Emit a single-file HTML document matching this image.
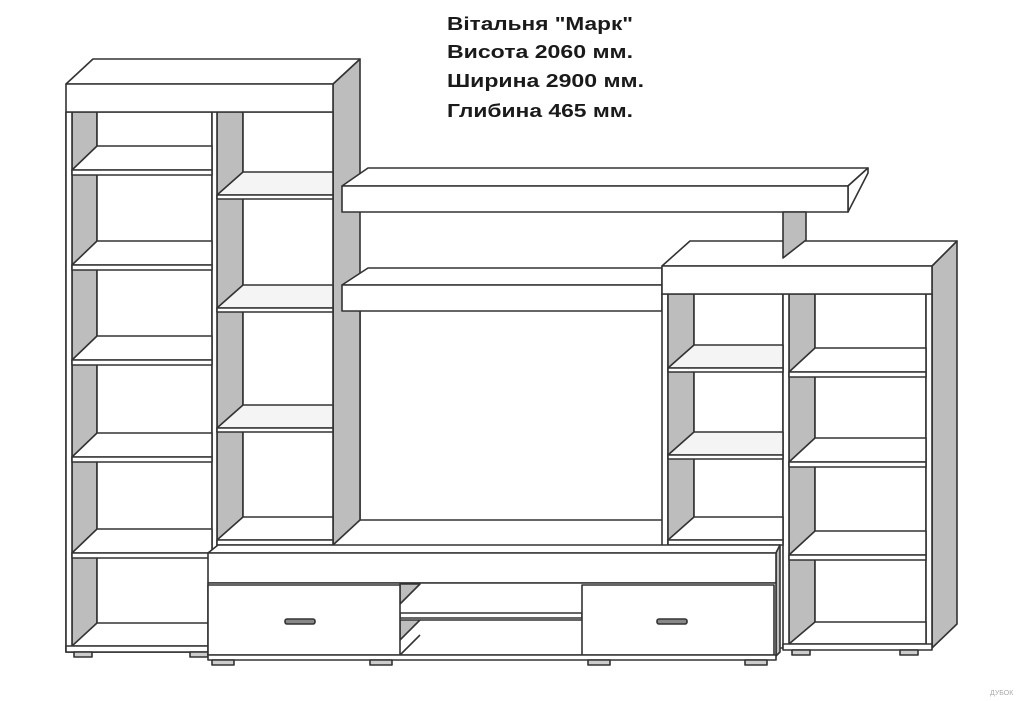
<!DOCTYPE html>
<html><head><meta charset="utf-8"><style>
html,body{margin:0;padding:0;background:#fff;width:1024px;height:701px;overflow:hidden}
svg{display:block}
text{font-family:"Liberation Sans",sans-serif;font-weight:bold;font-size:18px;fill:#1a1a1a}
</style></head><body>
<svg width="1024" height="701" viewBox="0 0 1024 701" xmlns="http://www.w3.org/2000/svg">
<g stroke="#333" stroke-width="1.6" fill="#fff" stroke-linejoin="round">
<!-- TV back panel -->
<path d="M360 311 V520 H662" fill="none"/>
<!-- Left tower -->
<rect x="66" y="112" width="267" height="540"/>
<polygon points="333,84 360,59 360,520 333,545" fill="#bdbdbd"/>
<!-- left column -->
<rect x="72" y="112" width="140" height="540"/>
<rect x="72" y="112" width="25" height="540" fill="#bdbdbd"/>
<rect x="97" y="112" width="115" height="520"/>
<!-- right column -->
<rect x="217" y="112" width="116" height="433"/>
<rect x="217" y="112" width="26" height="433" fill="#bdbdbd"/>
<rect x="243" y="112" width="90" height="410"/>
<rect x="212" y="112" width="5" height="440"/>
<rect x="66" y="112" width="6" height="540"/>
<!-- left column shelves -->
<g>
<polygon points="72,170 97,146 212,146 212,170"/><rect x="72" y="170" width="140" height="5"/>
<polygon points="72,265 97,241 212,241 212,265"/><rect x="72" y="265" width="140" height="5"/>
<polygon points="72,360 97,336 212,336 212,360"/><rect x="72" y="360" width="140" height="5"/>
<polygon points="72,457 97,433 212,433 212,457"/><rect x="72" y="457" width="140" height="5"/>
<polygon points="72,553 97,529 212,529 212,553"/><rect x="72" y="553" width="140" height="5"/>
<polygon points="72,646 97,623 212,623 212,646"/><rect x="66" y="646" width="146" height="6"/>
</g>
<!-- right column glass shelves -->
<g>
<polygon points="217,195 243,172 333,172 333,195" fill="#f4f4f4"/><rect x="217" y="195" width="116" height="4"/>
<polygon points="217,308 243,285 333,285 333,308" fill="#f4f4f4"/><rect x="217" y="308" width="116" height="4"/>
<polygon points="217,428 243,405 333,405 333,428" fill="#f4f4f4"/><rect x="217" y="428" width="116" height="4"/>
<polygon points="217,540 243,517 333,517 333,540"/><rect x="217" y="540" width="116" height="5"/>
</g>
<!-- top slab -->
<polygon points="66,84 93,59 360,59 333,84"/>
<rect x="66" y="84" width="267" height="28"/>
<!-- feet -->
<rect x="74" y="652" width="18" height="5" fill="#ccc"/><rect x="190" y="652" width="18" height="5" fill="#ccc"/>

<!-- Upper shelf -->
<polygon points="342,186 368,168 868,168 848,186"/>
<polygon points="848,186 868,168 868,173 848,212" fill="#fff"/>
<rect x="342" y="186" width="506" height="26"/>
<!-- Lower shelf -->
<polygon points="342,285 368,268 662,268 662,285"/>
<rect x="342" y="285" width="320" height="26"/>

<!-- Right tower -->
<polygon points="932,266 957,241 957,624 932,648" fill="#bdbdbd"/>
<rect x="662" y="294" width="270" height="354"/>
<!-- left col -->
<rect x="668" y="294" width="115" height="250"/>
<rect x="668" y="294" width="26" height="250" fill="#bdbdbd"/>
<rect x="694" y="294" width="89" height="226"/>
<!-- right col -->
<rect x="789" y="294" width="137" height="354"/>
<rect x="789" y="294" width="26" height="354" fill="#bdbdbd"/>
<rect x="815" y="294" width="111" height="330"/>
<rect x="783" y="294" width="6" height="354"/>
<rect x="926" y="294" width="6" height="354"/>
<g>
<polygon points="668,368 694,345 783,345 783,368" fill="#f4f4f4"/><rect x="668" y="368" width="115" height="4"/>
<polygon points="668,455 694,432 783,432 783,455" fill="#f4f4f4"/><rect x="668" y="455" width="115" height="4"/>
<polygon points="668,540 694,517 783,517 783,540"/><rect x="668" y="540" width="115" height="5"/>
<polygon points="789,372 815,348 926,348 926,372"/><rect x="789" y="372" width="137" height="5"/>
<polygon points="789,462 815,438 926,438 926,462"/><rect x="789" y="462" width="137" height="5"/>
<polygon points="789,555 815,531 926,531 926,555"/><rect x="789" y="555" width="137" height="5"/>
<polygon points="789,644 815,622 926,622 926,644"/><rect x="783" y="644" width="149" height="6"/>
</g>
<polygon points="662,266 690,241 957,241 932,266"/>
<rect x="662" y="266" width="270" height="28"/>
<!-- support post -->
<polygon points="783,212 806,212 806,240 783,258" fill="#bdbdbd"/>
<rect x="792" y="650" width="18" height="5" fill="#ccc"/><rect x="900" y="650" width="18" height="5" fill="#ccc"/>

<!-- TV base -->
<polygon points="208,553 218,545 780,545 776,553"/>
<polygon points="776,553 780,545 780,652 776,656" fill="#bdbdbd"/>
<rect x="208" y="553" width="568" height="30"/>
<rect x="208" y="583" width="568" height="72"/>
<polygon points="400,584 420,584 400,604" fill="#bdbdbd"/>
<polygon points="400,620 420,620 400,640" fill="#bdbdbd"/>
<polygon points="400,613 420,613 582,613 582,618 400,618"/>
<line x1="420" y1="620" x2="582" y2="620"/>
<line x1="400" y1="655" x2="420" y2="635"/>
<rect x="208" y="585" width="192" height="70"/>
<rect x="582" y="585" width="192" height="70"/>
<rect x="285" y="619" width="30" height="5" rx="2" fill="#888"/>
<rect x="657" y="619" width="30" height="5" rx="2" fill="#888"/>
<rect x="208" y="655" width="568" height="5"/>
<rect x="212" y="660" width="22" height="5" fill="#ccc"/><rect x="370" y="660" width="22" height="5" fill="#ccc"/>
<rect x="588" y="660" width="22" height="5" fill="#ccc"/><rect x="745" y="660" width="22" height="5" fill="#ccc"/>
</g>
<text x="447" y="30" textLength="186" lengthAdjust="spacingAndGlyphs">Вітальня "Марк"</text>
<text x="447" y="58" textLength="186" lengthAdjust="spacingAndGlyphs">Висота 2060 мм.</text>
<text x="447" y="87" textLength="197" lengthAdjust="spacingAndGlyphs">Ширина 2900 мм.</text>
<text x="447" y="117" textLength="186" lengthAdjust="spacingAndGlyphs">Глибина 465 мм.</text>
<text x="990" y="695" style="font-size:7px;font-weight:normal;fill:#aaa">ДУБОК</text>
</svg>
</body></html>
